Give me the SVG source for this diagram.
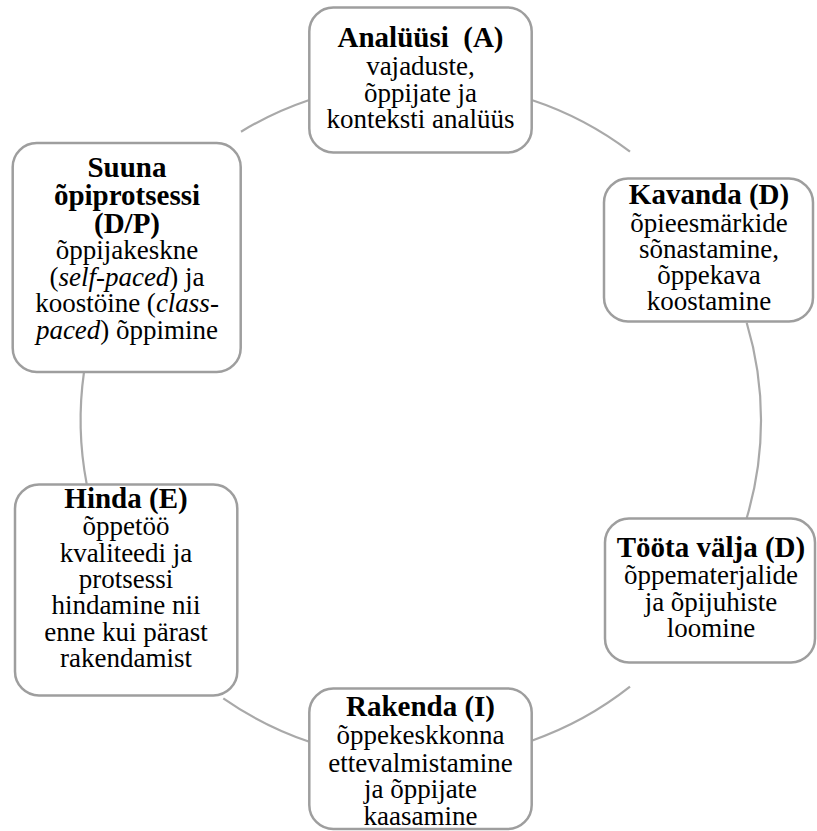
<svg xmlns="http://www.w3.org/2000/svg" width="817" height="831" viewBox="0 0 817 831">
<style>
.box{fill:#ffffff;stroke:#9e9e9e;stroke-width:2.5}
.arc{fill:none;stroke:#a9a9a9;stroke-width:2.2}
.t{font-size:29px;font-weight:bold}
.b{font-size:27px}
.i{font-style:italic}
</style>
<rect width="817" height="831" fill="#ffffff"/>
<g id="connectors">
<path class="arc" d="M531.7 100 A340 340 0 0 1 630 151.7"/>
<path class="arc" d="M746.7 322.7 A340 340 0 0 1 746.7 518"/>
<path class="arc" d="M630 686.7 A340 340 0 0 1 531.7 740.7"/>
<path class="arc" d="M309.3 741.7 A340 340 0 0 1 223.3 698.3"/>
<path class="arc" d="M86.7 484 A340 340 0 0 1 84 372"/>
<path class="arc" d="M241 131.7 A340 340 0 0 1 309.3 100"/>
</g>
<g font-family="Liberation Serif, DejaVu Serif, serif" text-anchor="middle" fill="#000000">
<g id="node-analyysi">
<rect class="box" x="309.3" y="7.5" width="222.4" height="145" rx="24"/>
<text class="t" x="420.5" y="47" xml:space="preserve">Analüüsi  (A)</text>
<text class="b" x="420.5" y="75">vajaduste,</text>
<text class="b" x="420.5" y="101.5">õppijate ja</text>
<text class="b" x="420.5" y="128">konteksti analüüs</text>
</g>
<g id="node-kavanda">
<rect class="box" x="604" y="178.5" width="209" height="143" rx="24"/>
<text class="t" x="709" y="204">Kavanda (D)</text>
<text class="b" x="709" y="231.5">õpieesmärkide</text>
<text class="b" x="709" y="257.5">sõnastamine,</text>
<text class="b" x="709" y="284">õppekava</text>
<text class="b" x="709" y="310">koostamine</text>
</g>
<g id="node-toota">
<rect class="box" x="605" y="518.5" width="210" height="144" rx="24"/>
<text class="t" x="711" y="557">Tööta välja (D)</text>
<text class="b" x="711" y="584">õppematerjalide</text>
<text class="b" x="711" y="610.5">ja õpijuhiste</text>
<text class="b" x="711" y="637">loomine</text>
</g>
<g id="node-rakenda">
<rect class="box" x="309.3" y="688.5" width="222.4" height="140.5" rx="24"/>
<text class="t" x="420.5" y="716">Rakenda (I)</text>
<text class="b" x="420.5" y="744">õppekeskkonna</text>
<text class="b" x="420.5" y="771.5">ettevalmistamine</text>
<text class="b" x="420.5" y="798">ja õppijate</text>
<text class="b" x="420.5" y="825">kaasamine</text>
</g>
<g id="node-hinda">
<rect class="box" x="15" y="484.5" width="222.3" height="211" rx="24"/>
<text class="t" x="126" y="508">Hinda (E)</text>
<text class="b" x="126" y="535">õppetöö</text>
<text class="b" x="126" y="561.5">kvaliteedi ja</text>
<text class="b" x="126" y="587.5">protsessi</text>
<text class="b" x="126" y="614">hindamine nii</text>
<text class="b" x="126" y="640.5">enne kui pärast</text>
<text class="b" x="126" y="667">rakendamist</text>
</g>
<g id="node-suuna">
<rect class="box" x="12.7" y="143" width="228" height="229" rx="24"/>
<text class="t" x="127" y="177">Suuna</text>
<text class="t" x="127" y="205">õpiprotsessi</text>
<text class="t" x="127" y="233">(D/P)</text>
<text class="b" x="127" y="259">õppijakeskne</text>
<text class="b" x="127" y="285.5">(<tspan class="i">self-paced</tspan>) ja</text>
<text class="b" x="127" y="312">koostöine (<tspan class="i">class-</tspan></text>
<text class="b" x="127" y="338.5"><tspan class="i">paced</tspan>) õppimine</text>
</g>
</g>
</svg>
